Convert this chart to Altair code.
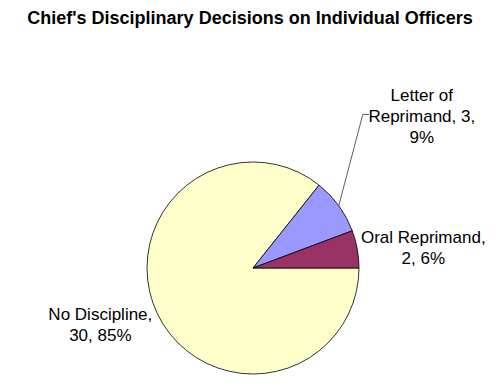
import math
import textwrap
import altair as alt
import pandas as pd

# ---- data ----
categories = ["No Discipline", "Letter of Reprimand", "Oral Reprimand"]
counts = [30, 3, 2]
percents = [85, 9, 6]
colors = ["#FFFFCC", "#9999FF", "#993366"]

labels = ["\n".join(textwrap.wrap(f"{c}, {n}, {p}%", 15)) for c, n, p in zip(categories, counts, percents)]
df = pd.DataFrame({"category": categories, "count": counts, "pct": percents,
                   "label": labels, "idx": list(range(len(categories)))})

# ---- layout ----
W, H = 484, 338
CX, CY = 245, 228          # pie centre in view coordinates
R = 106
FONT = "Liberation Sans"
LH = 21

theta_enc = alt.Theta("count:Q", stack=True,
                      scale=alt.Scale(range=[math.pi / 2, math.pi / 2 + 2 * math.pi]))
order_enc = alt.Order("idx:Q")
common = dict(theta=theta_enc, order=order_enc, x=alt.value(CX), y=alt.value(CY))

pie = alt.Chart(df).mark_arc(outerRadius=R, stroke="black", strokeWidth=0.8).encode(
    color=alt.Color("category:N", scale=alt.Scale(domain=categories, range=colors), legend=None),
    **common,
)

# label placement (block centre): radius and offsets per category
placement = {
    "Letter of Reprimand": (200, 7, -33),
    "Oral Reprimand": (170, 3, 11),
    "No Discipline": (165, -4, -14),
}
layers = [pie]
for cat, (rad, dx, dy) in placement.items():
    nlines = labels[categories.index(cat)].count("\n") + 1
    layers.append(
        alt.Chart(df).mark_text(radius=rad, dx=dx, dy=dy - (nlines - 1) * LH / 2,
                                font=FONT, fontSize=17, lineHeight=LH, lineBreak="\n",
                                align="center", baseline="middle", color="black").encode(
            text=alt.condition(alt.datum.category == cat, "label:N", alt.value("")),
            **common,
        )
    )

# leader line for the Letter of Reprimand label, derived from slice angle
total = sum(counts)
i = categories.index("Letter of Reprimand")
before = sum(counts[:i])
ang = math.pi / 2 + 2 * math.pi * (before + counts[i] / 2) / total
rad, dx, dy = placement["Letter of Reprimand"]
ax = CX + rad * math.sin(ang) + dx
ay = CY - rad * math.cos(ang) + dy
leader = pd.DataFrame({
    "px": [CX + R * math.sin(ang), ax - 59, ax - 53],
    "py": [CY - R * math.cos(ang), ay - 3, ay - 3],
    "k": [0, 1, 2],
})
line = alt.Chart(leader).mark_line(color="#333333", strokeWidth=0.8).encode(
    x=alt.X("px:Q", scale=None, axis=None),
    y=alt.Y("py:Q", scale=None, axis=None),
    order="k:Q",
)
layers.append(line)

chart = alt.layer(*layers).properties(
    width=W, height=H,
    title=alt.TitleParams("Chief's Disciplinary Decisions on Individual Officers",
                          font=FONT, fontSize=18, fontWeight="bold", color="black",
                          anchor="middle", offset=12),
    padding={"top": 2, "left": 0, "right": 0, "bottom": 0},
).configure_view(stroke=None)

chart.save("out.html", embed_options={"renderer": "svg", "actions": False})
